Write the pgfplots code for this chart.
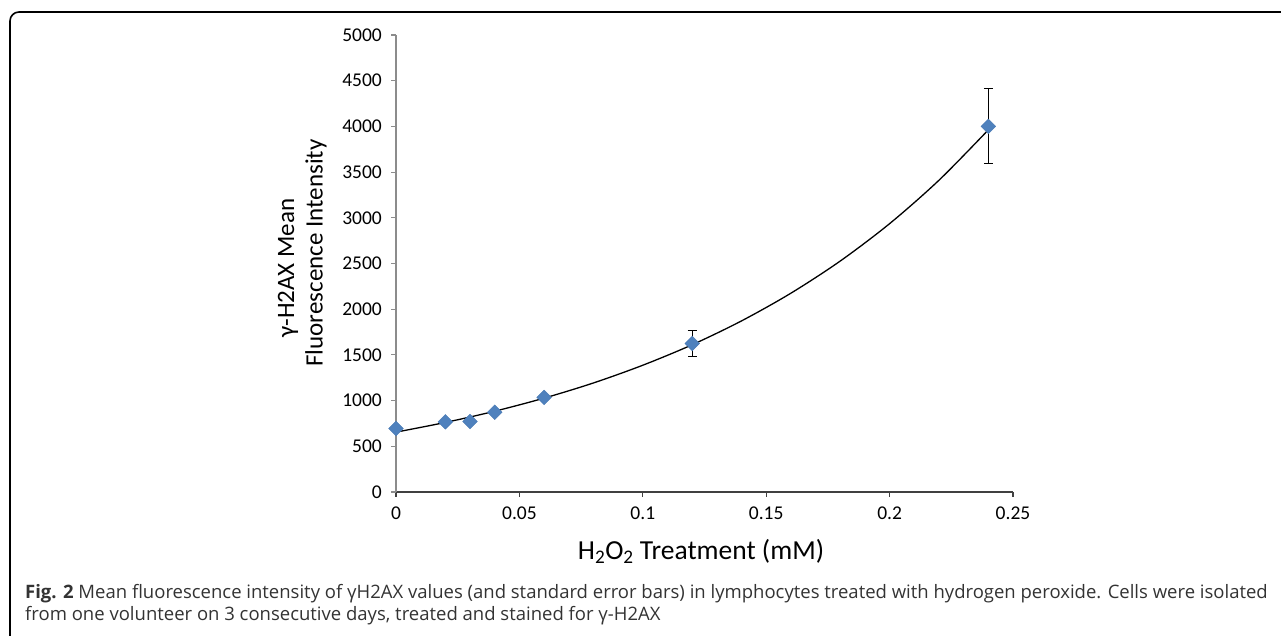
\documentclass[border=0pt]{standalone}
\usepackage{pgfplots}
\pgfplotsset{compat=1.18}
\usepackage{fontspec}
\setmainfont{Carlito}
\newfontfamily\capfont{Open Sans}
\definecolor{ptblue}{HTML}{4F81BD}
\definecolor{ptedge}{HTML}{4677B2}
\definecolor{axgray}{HTML}{8C8C8C}
\definecolor{captxt}{HTML}{333333}

\begin{document}
\begin{tikzpicture}[x=1pt,y=1pt]
  % page = 1281 x 636 px, y measured from bottom
  \clip (0,0) rectangle (1281,636);
  \draw[line width=1.6pt, rounded corners=9pt] (10,-10) -- (10,624) -- (1300,624);

  \begin{axis}[
      at={(396pt,144pt)}, anchor=south west,
      scale only axis, width=617pt, height=457pt,
      xmin=0, xmax=0.25, ymin=0, ymax=5000,
      xtick={0,0.05,0.1,0.15,0.2,0.25},
      xticklabels={0,0.05,0.1,0.15,0.2,0.25},
      ytick={0,500,1000,1500,2000,2500,3000,3500,4000,4500,5000},
      axis x line*=bottom, axis y line*=left,
      x axis line style={-, black!75, line width=1.3pt},
      y axis line style={-, axgray, line width=1.3pt},
      xtick style={black!75, line width=1.1pt},
      ytick style={axgray, line width=1.1pt},
      tick align=outside, major tick length=5pt,
      /pgf/number format/assume math mode=true,
      /pgf/number format/1000 sep={},
      scaled x ticks=false, scaled y ticks=false,
      tick label style={font=\fontsize{19.5}{21}\selectfont, inner sep=0pt},
      yticklabel style={anchor=east, xshift=-9pt},
      xticklabel style={anchor=north, yshift=-10pt},
      clip=false,
    ]
    % measured points with standard error
    \addplot[only marks, mark=square*, mark size=5.2pt,
             mark options={rotate=45, fill=ptblue, draw=ptedge, line width=0.4pt},
             error bars/.cd, y dir=both, y explicit,
             error bar style={black, line width=1.1pt},
             error mark options={black, line width=1.1pt, mark size=4.5pt, rotate=90}]
      coordinates {
        (0,    695)  +- (0,0)
        (0.02, 768)  +- (0,0)
        (0.03, 772)  +- (0,0)
        (0.04, 872)  +- (0,0)
        (0.06, 1035) +- (0,0)
        (0.12, 1625) +- (0,140)
        (0.24, 4000) +- (0,410)
      };
    % exponential trendline
    \addplot[black, line width=1.3pt, smooth, no markers]
      coordinates {
        (0,655) (0.02,761) (0.04,884) (0.06,1027) (0.08,1193) (0.10,1387)
        (0.12,1611) (0.14,1872) (0.16,2175) (0.18,2527) (0.20,2936)
        (0.22,3411) (0.24,3962)
      };
  \end{axis}

  \node[rotate=90, font=\fontsize{25}{28}\selectfont] at (288,368) {γ-H2AX Mean};
  \node[rotate=90, font=\fontsize{25}{28}\selectfont] at (316,383) {Fluorescence Intensity};
  \node[font=\fontsize{27.5}{30}\selectfont] at (701,85) {H\textsubscript{2}O\textsubscript{2} Treatment (mM)};

  \node[anchor=base west, inner sep=0pt, text=captxt, font=\capfont\fontsize{18.5}{20}\selectfont]
    at (25,37) {\textbf{Fig. 2} Mean fluorescence intensity of γH2AX values (and standard error bars) in lymphocytes treated with hydrogen peroxide. Cells were isolated};
  \node[anchor=base west, inner sep=0pt, text=captxt, font=\capfont\fontsize{18.5}{20}\selectfont]
    at (25,15) {from one volunteer on 3 consecutive days, treated and stained for γ-H2AX};
\end{tikzpicture}
\end{document}
